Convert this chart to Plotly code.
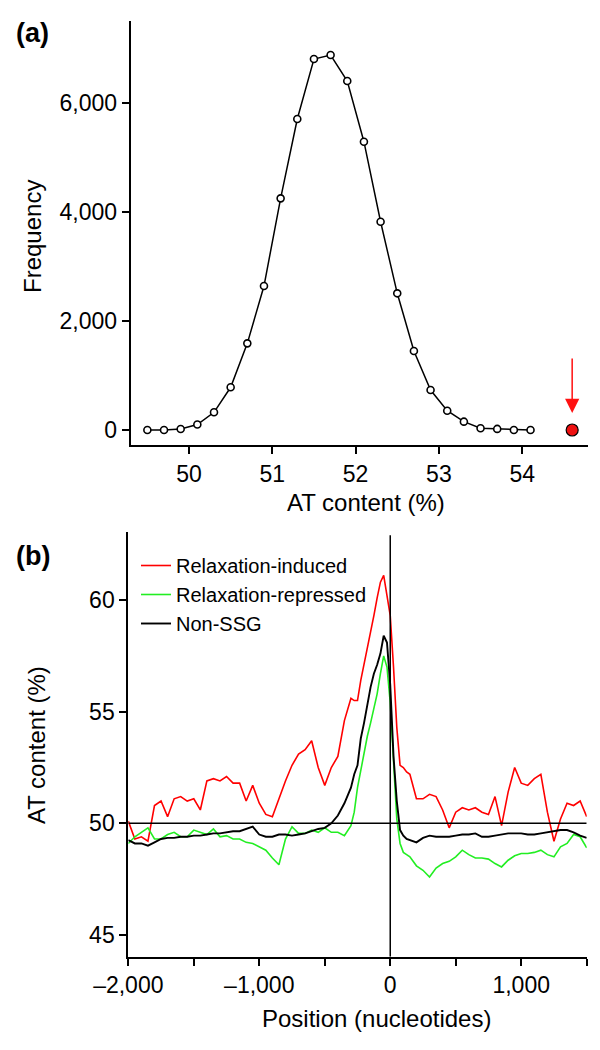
import plotly.graph_objects as go

# ---------- Panel (a): AT content frequency distribution ----------
at_content = [49.5, 49.7, 49.9, 50.1, 50.3, 50.5, 50.7, 50.9, 51.1, 51.3, 51.5, 51.7,
              51.9, 52.1, 52.3, 52.5, 52.7, 52.9, 53.1, 53.3, 53.5, 53.7, 53.9, 54.1]
frequency = [0, 0, 18, 100, 325, 784, 1590, 2642, 4251, 5706, 6807, 6881,
             6404, 5290, 3822, 2508, 1450, 734, 354, 153, 31, 20, 0, 0]
highlight_x = [54.6]
highlight_y = [0]
arrow_tail_y = 1339
arrow_tip_y = 312

a_tickvals = [0, 2000, 4000, 6000]
a_ticktext = ["0", "2,000", "4,000", "6,000"]
a_xtickvals = [50, 51, 52, 53, 54]
a_xticktext = ["50", "51", "52", "53", "54"]

# ---------- Panel (b): AT content profiles ----------
position = [-2000, -1950, -1900, -1850, -1800, -1750, -1700, -1650, -1600, -1550,
            -1500, -1450, -1400, -1350, -1300, -1250, -1200, -1150, -1100, -1050,
            -1000, -950, -900, -850, -800, -750, -700, -650, -600, -550,
            -500, -450, -400, -350,
            -300, -275, -250, -225, -200, -175, -150, -125, -100, -75, -50, -25,
            0, 25, 50, 75, 100, 125,
            150, 200, 250, 300, 350, 400, 450, 500, 550, 600, 650, 700, 750, 800,
            850, 900, 950, 1000, 1050, 1100, 1150, 1200, 1250, 1300, 1350, 1400,
            1450, 1500]

relax_induced = [50.1, 49.3, 49.4, 49.2, 50.8, 51.0, 50.3, 51.1, 51.2, 51.0,
                 51.1, 50.6, 51.9, 52.0, 51.9, 52.1, 51.8, 51.8, 51.0, 51.7,
                 50.9, 50.4, 50.3, 51.1, 51.9, 52.6, 53.1, 53.3, 53.7, 52.5,
                 51.7, 52.5, 53.0, 54.6,
                 55.6, 55.5, 55.5, 56.4, 57.1, 57.9, 58.6, 59.3, 60.1, 60.8, 61.1, 60.2,
                 59.3, 57.0, 54.3, 52.6, 52.5, 52.3,
                 52.2, 51.1, 51.1, 51.3, 51.2, 50.6, 49.8, 50.5, 50.7, 50.6, 50.7, 50.5,
                 50.4, 51.2, 49.9, 51.4, 52.5, 51.8, 51.7, 52.0, 52.2, 50.5, 49.2, 50.2,
                 50.9, 50.8, 51.0, 50.3]

relax_repressed = [49.1, 49.4, 49.6, 49.8, 49.3, 49.3, 49.5, 49.6, 49.4, 49.4,
                   49.7, 49.6, 49.5, 49.75, 49.4, 49.45, 49.3, 49.3, 49.15, 49.1,
                   48.95, 48.8, 48.45, 48.15, 49.3, 49.85, 49.55, 49.55, 49.7, 49.6,
                   49.8, 49.6, 49.6, 49.45,
                   49.9, 50.5, 51.6, 52.4, 53.2, 53.9, 54.5, 55.2, 55.8, 56.7, 57.5, 57.0,
                   55.4, 52.8, 50.2, 49.1, 48.7, 48.6,
                   48.5, 48.1, 47.9, 47.6, 48.0, 48.2, 48.3, 48.5, 48.8, 48.6, 48.45, 48.45,
                   48.4, 48.2, 48.05, 48.35, 48.55, 48.65, 48.65, 48.7, 48.8, 48.6, 48.5, 48.95,
                   49.1, 49.5, 49.4, 48.9]

non_ssg = [49.25, 49.1, 49.1, 49.0, 49.15, 49.3, 49.35, 49.35, 49.4, 49.4,
           49.45, 49.45, 49.5, 49.55, 49.55, 49.6, 49.65, 49.65, 49.75, 49.85,
           49.5, 49.4, 49.4, 49.5, 49.5, 49.45, 49.5, 49.55, 49.65, 49.75,
           49.8, 50.0, 50.35, 50.9,
           51.6, 52.2, 52.6, 53.8, 54.5, 55.4, 56.1, 56.7, 57.1, 57.6, 58.4, 58.1,
           56.2, 53.0, 51.0, 49.7, 49.45, 49.3,
           49.25, 49.15, 49.35, 49.45, 49.4, 49.4, 49.4, 49.45, 49.5, 49.5, 49.55, 49.4,
           49.4, 49.45, 49.5, 49.55, 49.55, 49.55, 49.5, 49.5, 49.55, 49.6, 49.65, 49.7,
           49.7, 49.6, 49.45, 49.35]

series_names = ["Relaxation-induced", "Relaxation-repressed", "Non-SSG"]
series_colors = ["#ff0000", "#22ee22", "#000000"]
series_widths = [1.6, 1.6, 1.9]

b_xtickvals = [-2000, -1000, 0, 1000]
b_xticktext = ["\u20132,000", "\u20131,000", "0", "1,000"]
b_ytickvals = [45, 50, 55, 60]
b_yticktext = ["45", "50", "55", "60"]
ref_y = 50
ref_x = 0
ref_x_top = 62.9

FONT = "Liberation Sans, Arial, Helvetica, sans-serif"
W, H = 600, 1050

fig = go.Figure()

fig.add_trace(go.Scatter(
    x=at_content, y=frequency, mode="lines+markers", xaxis="x", yaxis="y",
    line=dict(color="black", width=1.5),
    marker=dict(symbol="circle", size=7, color="white",
                line=dict(color="black", width=1.6)),
    showlegend=False))
fig.add_trace(go.Scatter(
    x=highlight_x, y=highlight_y, mode="markers", xaxis="x", yaxis="y",
    marker=dict(symbol="circle", size=12, color="#ee1111",
                line=dict(color="black", width=1.2)),
    showlegend=False))

for name, vals, col, lw in zip(series_names, [relax_induced, relax_repressed, non_ssg],
                               series_colors, series_widths):
    fig.add_trace(go.Scatter(
        x=position, y=vals, mode="lines", xaxis="x2", yaxis="y2", name=name,
        line=dict(color=col, width=lw)))

# reference lines in panel (b)
fig.add_shape(type="line", xref="x2", yref="y2", x0=position[0], x1=position[-1],
              y0=ref_y, y1=ref_y, line=dict(color="black", width=1.5))
fig.add_shape(type="line", xref="x2", yref="y2", x0=ref_x, x1=ref_x,
              y0=44.03, y1=ref_x_top, line=dict(color="black", width=1.5))

# red arrow in panel (a)
fig.add_annotation(x=highlight_x[0], y=arrow_tip_y, ax=highlight_x[0], ay=arrow_tail_y,
                   xref="x", yref="y", axref="x", ayref="y", text="",
                   showarrow=True, arrowhead=2, arrowsize=1.9, arrowwidth=1.5,
                   arrowcolor="#ff1111")

def px_x(p):
    return p / W

def px_y(p):
    return 1 - p / H

axis_common = dict(showline=True, linecolor="black", linewidth=2, ticks="outside",
                   ticklen=7, tickwidth=1.5, tickcolor="black", showgrid=False,
                   zeroline=False, automargin=False,
                   tickfont=dict(family=FONT, size=23, color="black"))

fig.update_layout(
    width=W, height=H, margin=dict(l=0, r=0, t=0, b=0, autoexpand=False),
    paper_bgcolor="white", plot_bgcolor="white",
    font=dict(family=FONT, size=22, color="black"),
    xaxis=dict(domain=[px_x(130.7), px_x(588)], range=[49.3, 54.79], anchor="y",
               tickmode="array", tickvals=a_xtickvals, ticktext=a_xticktext, **axis_common),
    yaxis=dict(domain=[px_y(445), px_y(21)], range=[-275, 7505], anchor="x",
               tickmode="array", tickvals=a_tickvals, ticktext=a_ticktext, **axis_common),
    xaxis2=dict(domain=[px_x(128.3), px_x(586.7)], range=[-2000, 1500], anchor="y2",
                tickmode="array", tickvals=b_xtickvals, ticktext=b_xticktext,
                minor=dict(tickvals=[-1500, -500, 500, 1500], ticks="outside", ticklen=7,
                           tickwidth=1.5, tickcolor="black"),
                **axis_common),
    yaxis2=dict(domain=[px_y(956.7), px_y(531.7)], range=[44.03, 63.06], anchor="x2",
                tickmode="array", tickvals=b_ytickvals, ticktext=b_yticktext, **axis_common),
    legend=dict(x=px_x(136), y=px_y(546), xanchor="left", yanchor="top",
                bgcolor="rgba(0,0,0,0)", font=dict(family=FONT, size=20, color="black"),
                tracegroupgap=0, itemwidth=30),
)

def label(text, x, y, size=24, angle=0):
    fig.add_annotation(text=text, x=px_x(x), y=px_y(y), xref="paper", yref="paper",
                       xanchor="center", yanchor="middle", showarrow=False,
                       textangle=angle, font=dict(family=FONT, size=size, color="black"))

label("<b>(a)</b>", 32, 33, size=27)
label("<b>(b)</b>", 33, 556, size=27)
label("Frequency", 32, 237)
fig.layout.annotations[-1].textangle = -90
label("AT content (%)", 366, 502)
label("AT content (%)", 36, 745, angle=-90)
label("Position (nucleotides)", 376, 1018)

fig.write_html("out.html", config={"displayModeBar": False},
               post_script="document.body.style.margin='0px';")
